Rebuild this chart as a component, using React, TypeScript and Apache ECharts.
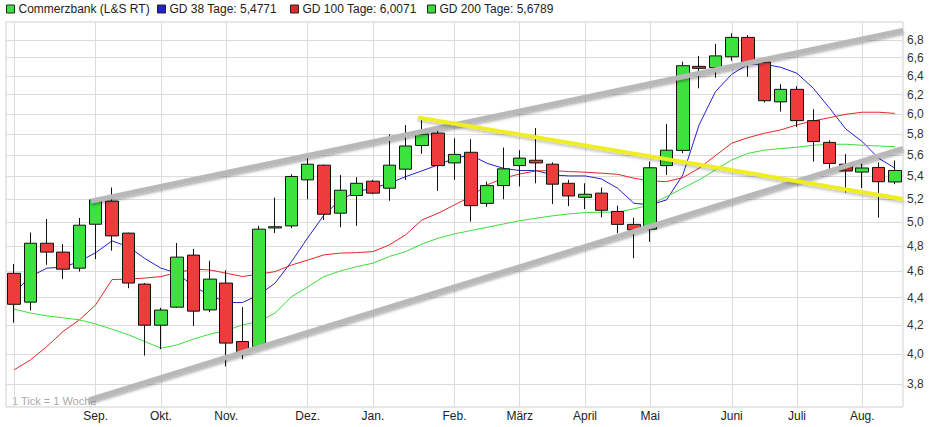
import React, { useEffect, useRef } from "react";
import * as echarts from "echarts";

// ---- data ----
const monthNames = ["Sep.", "Okt.", "Nov.", "Dez.", "Jan.", "Feb.", "März", "April", "Mai", "Juni", "Juli", "Aug."];
const monthWeekIdx = [5, 9, 13, 18, 22, 27, 31, 35, 39, 44, 48, 52];
const gridWeekIdx = [0, 5, 9, 13, 18, 22, 27, 31, 35, 39, 44, 48, 52];
const yTickValues = [3.8, 4.0, 4.2, 4.4, 4.6, 4.8, 5.0, 5.2, 5.4, 5.6, 5.8, 6.0, 6.2, 6.4, 6.6, 6.8];
const yRange = [3.658, 7.01];

const open = [
  4.585, 4.367, 4.824, 4.752, 4.625, 4.981, 5.18, 4.907, 4.502, 4.2,
  4.33, 4.728, 4.31, 4.51, 4.086, 4.051, 4.95, 4.967, 5.369, 5.504,
  5.075, 5.229, 5.357, 5.294, 5.467, 5.69, 5.81, 5.525, 5.625, 5.16,
  5.317, 5.5, 5.55, 5.513, 5.338, 5.213, 5.25, 5.09, 4.98, 4.94,
  5.5, 5.643, 6.504, 6.49, 6.61, 6.83, 6.55, 6.125, 6.256, 5.934,
  5.72, 5.513, 5.44, 5.483, 5.35,
];
const close = [
  4.351, 4.824, 4.752, 4.617, 4.973, 5.19, 4.884, 4.51, 4.2, 4.309,
  4.712, 4.301, 4.54, 4.075, 4.016, 4.94, 4.96, 5.4, 5.513, 5.066,
  5.276, 5.338, 5.25, 5.504, 5.685, 5.8, 5.5, 5.605, 5.14, 5.317,
  5.47, 5.57, 5.525, 5.33, 5.225, 5.24, 5.1, 4.98, 4.934, 5.48,
  5.645, 6.511, 6.482, 6.62, 6.83, 6.55, 6.137, 6.256, 5.934, 5.728,
  5.52, 5.45, 5.478, 5.352, 5.455,
];
const low = [
  4.218, 4.306, 4.651, 4.54, 4.598, 4.696, 4.764, 4.471, 3.99, 4.033,
  4.325, 4.195, 4.293, 3.917, 3.966, 4.04, 4.907, 4.948, 5.196, 5.017,
  4.956, 4.968, 5.24, 5.183, 5.369, 5.61, 5.27, 5.37, 5.003, 5.13,
  5.196, 5.31, 5.338, 5.155, 5.136, 5.11, 5.04, 4.907, 4.704, 4.835,
  5.414, 5.617, 6.267, 6.38, 6.565, 6.39, 6.12, 6.025, 5.87, 5.537,
  5.465, 5.255, 5.294, 5.037, 5.33,
];
const high = [
  4.658, 4.912, 5.026, 4.817, 5.034, 5.2, 5.3, 4.91, 4.51, 4.325,
  4.826, 4.778, 4.683, 4.609, 4.33, 4.967, 5.21, 5.42, 5.583, 5.51,
  5.414, 5.393, 5.37, 5.8, 5.89, 5.94, 5.84, 5.76, 5.75, 5.353,
  5.67, 5.645, 5.86, 5.53, 5.37, 5.338, 5.3, 5.14, 5.037, 5.537,
  5.9, 6.555, 6.62, 6.755, 6.877, 6.857, 6.57, 6.31, 6.29, 6.05,
  5.74, 5.608, 5.56, 5.53, 5.547,
];
const gd38 = [
  4.436, 4.56, 4.625, 4.633, 4.677, 4.748, 4.843, 4.796, 4.702, 4.625,
  4.586, 4.484, 4.42, 4.364, 4.364, 4.42, 4.51, 4.675, 4.868, 5.06,
  5.19, 5.264, 5.294, 5.338, 5.398, 5.451, 5.507, 5.569, 5.599, 5.521,
  5.475, 5.454, 5.454, 5.414, 5.405, 5.405, 5.378, 5.294, 5.161, 5.147,
  5.19, 5.414, 5.892, 6.232, 6.418, 6.527, 6.527, 6.494, 6.428, 6.268,
  6.06, 5.849, 5.728, 5.569, 5.4771,
];
const gd100 = [
  3.895, 3.961, 4.051, 4.156, 4.238, 4.347, 4.537, 4.54, 4.548, 4.56,
  4.59, 4.617, 4.611, 4.586, 4.56, 4.578, 4.598, 4.649, 4.689, 4.73,
  4.744, 4.748, 4.756, 4.81, 4.893, 5.017, 5.075, 5.147, 5.219, 5.324,
  5.384, 5.423, 5.451, 5.454, 5.445, 5.439, 5.43, 5.42, 5.384, 5.36,
  5.353, 5.389, 5.476, 5.593, 5.712, 5.766, 5.809, 5.842, 5.892, 5.931,
  5.964, 5.998, 6.019, 6.019, 6.0071,
];
const gd200 = [
  4.316, 4.287, 4.267, 4.253, 4.238, 4.209, 4.172, 4.133, 4.086, 4.04,
  4.063, 4.103, 4.137, 4.162, 4.202, 4.226, 4.287, 4.407, 4.48, 4.56,
  4.603, 4.637, 4.664, 4.717, 4.756, 4.818, 4.865, 4.901, 4.928, 4.956,
  4.983, 5.011, 5.032, 5.052, 5.069, 5.08, 5.084, 5.084, 5.112, 5.147,
  5.219, 5.294, 5.369, 5.46, 5.553, 5.615, 5.645, 5.661, 5.673, 5.692,
  5.702, 5.702, 5.692, 5.685, 5.6789,
];
const upperChannel = [[4.71, 5.18], [54.5, 6.911]];
const lowerChannel = [[4.59, 3.702], [54.5, 5.663]];
const yellowTrend = [[24.76, 5.966], [54.5, 5.199]];

const seriesNames = ["Commerzbank (L&S RT)", "GD 38 Tage: 5,4771", "GD 100 Tage: 6,0071", "GD 200 Tage: 5,6789"];
const legendLeft = [6, 157, 290, 427];

// ---- styles ----
const FONT = "'Liberation Sans', Arial, sans-serif";
const UP = "#3ee23e";
const DOWN = "#ee3b3b";
const BLUE = "#2222cc";
const RED = "#e02828";
const GREEN = "#3ddc3d";

const L = Math.log;

function buildOption(): any {
  const candles = open.map((o, i) => [i, L(o), L(close[i]), L(low[i]), L(high[i])]);
  const toLine = (arr: number[]) => arr.map((v, i) => [i, L(v)]);
  const toSeg = (arr: number[][]) => arr.map((p) => [p[0], L(p[1])]);
  const legendColors = [UP, BLUE, RED, GREEN];

  const trendLine = (data: number[][], color: string, width: number, shadow: string) => ({
    type: "line",
    data: toSeg(data),
    showSymbol: false,
    symbol: "none",
    silent: true,
    z: 5,
    lineStyle: { color, width, shadowColor: shadow, shadowBlur: 3, shadowOffsetY: 2, cap: "butt" },
  });

  return {
    animation: false,
    backgroundColor: "#ffffff",
    textStyle: { fontFamily: FONT },
    legend: seriesNames.map((n, k) => ({
      data: [{ name: n, itemStyle: { color: legendColors[k] } }],
      left: legendLeft[k],
      top: 3,
      itemWidth: 8,
      itemHeight: 8,
      icon: "rect",
      selectedMode: false,
      itemStyle: { borderColor: "#222", borderWidth: 1 },
      textStyle: { fontSize: 12, color: "#222", fontFamily: FONT, padding: [0, 0, 0, -1] },
      padding: 0,
    })),
    grid: {
      left: 6,
      right: 29,
      top: 22,
      bottom: 20,
      show: true,
      borderColor: "#cfcfcf",
      borderWidth: 1,
      containLabel: false,
    },
    xAxis: {
      type: "value",
      min: -0.5,
      max: 54.5,
      axisLine: { show: false },
      axisTick: { show: false, customValues: gridWeekIdx },
      splitLine: { show: true, lineStyle: { color: "#dcdcdc", width: 1 } },
      axisLabel: {
        customValues: monthWeekIdx,
        formatter: (v: number) => monthNames[monthWeekIdx.indexOf(Math.round(v))] ?? "",
        fontSize: 12,
        color: "#222",
        margin: 3,
        fontFamily: FONT,
      },
    },
    yAxis: {
      type: "value",
      position: "right",
      min: L(yRange[0]),
      max: L(yRange[1]),
      axisLine: { show: false },
      axisTick: { show: false, customValues: yTickValues.map((v) => L(v)) },
      splitLine: { show: true, lineStyle: { color: "#dcdcdc", width: 1 } },
      axisLabel: {
        customValues: yTickValues.map((v) => L(v)),
        formatter: (v: number) => Math.exp(v).toFixed(1).replace(".", ","),
        fontSize: 12,
        color: "#333",
        margin: 4,
        fontFamily: FONT,
      },
    },
    series: [
      {
        name: seriesNames[1],
        type: "line",
        data: toLine(gd38),
        showSymbol: false,
        symbol: "none",
        z: 2,
        itemStyle: { color: BLUE },
        lineStyle: { color: BLUE, width: 1 },
      },
      {
        name: seriesNames[2],
        type: "line",
        data: toLine(gd100),
        showSymbol: false,
        symbol: "none",
        z: 2,
        itemStyle: { color: RED },
        lineStyle: { color: RED, width: 1 },
      },
      {
        name: seriesNames[3],
        type: "line",
        data: toLine(gd200),
        showSymbol: false,
        symbol: "none",
        z: 2,
        itemStyle: { color: GREEN },
        lineStyle: { color: GREEN, width: 1 },
      },
      {
        name: seriesNames[0],
        type: "candlestick",
        data: candles,
        barWidth: 13,
        z: 3,
        itemStyle: {
          color: UP,
          color0: DOWN,
          borderColor: "#111",
          borderColor0: "#111",
          borderWidth: 1,
        },
      },
      trendLine(upperChannel, "#b8b8b8", 5, "rgba(0,0,0,0.35)"),
      trendLine(lowerChannel, "#b8b8b8", 5, "rgba(0,0,0,0.35)"),
      trendLine(yellowTrend, "#eeee22", 4, "rgba(0,0,0,0.25)"),
    ],
    graphic: [
      {
        type: "text",
        left: 12,
        top: 395,
        silent: true,
        style: { text: "1 Tick = 1 Woche", fontSize: 11, fill: "#aaaaaa", fontFamily: FONT },
      },
    ],
  };
}

export default function App() {
  const ref = useRef<HTMLDivElement>(null);
  useEffect(() => {
    if (!ref.current) return;
    const chart = echarts.init(ref.current, undefined, { renderer: "svg" });
    chart.setOption(buildOption());
    return () => chart.dispose();
  }, []);
  return (
    <div
      ref={ref}
      style={{ position: "fixed", left: 0, top: 0, width: 932, height: 427, background: "#fff" }}
    />
  );
}
